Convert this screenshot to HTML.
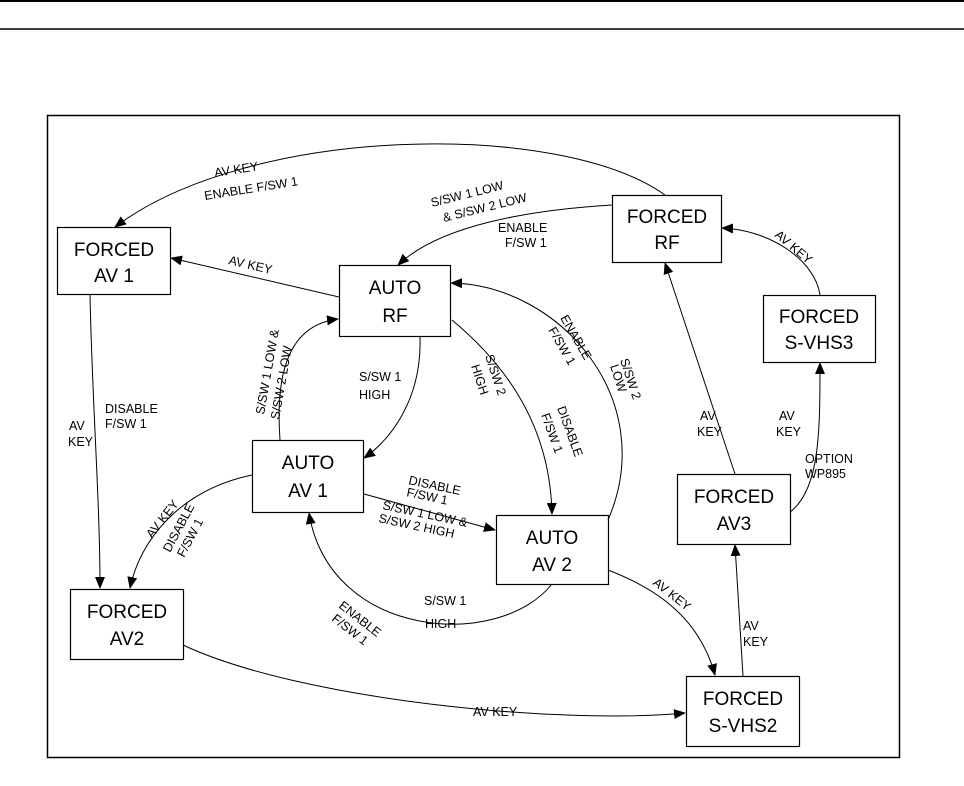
<!DOCTYPE html>
<html><head><meta charset="utf-8"><style>
html,body{margin:0;padding:0;background:#fff;}
svg{display:block;}
text{font-family:"Liberation Sans",Arial,sans-serif;fill:#000;}
.b{font-size:19px;}
.l{font-size:12.5px;}
</style></head><body>
<svg width="964" height="786" viewBox="0 0 964 786">
<defs><marker id="a" markerWidth="12" markerHeight="10" refX="11" refY="5" orient="auto" markerUnits="userSpaceOnUse"><path d="M0,0 L12,5 L0,10 Z" fill="#000"/></marker></defs>
<line x1="0" y1="1" x2="964" y2="1" stroke="#000" stroke-width="2"/>
<line x1="0" y1="29" x2="964" y2="29" stroke="#000" stroke-width="1.5"/>
<rect x="47.5" y="115.5" width="852" height="642" fill="none" stroke="#000" stroke-width="1.5"/>
<g fill="#fff" stroke="#000" stroke-width="1.2">
<rect x="57.5" y="227.5" width="113" height="67"/>
<rect x="339.5" y="265.5" width="111" height="71"/>
<rect x="612.5" y="195.5" width="109" height="67"/>
<rect x="763.5" y="295.5" width="112" height="67"/>
<rect x="252.5" y="440.5" width="111" height="72"/>
<rect x="496.5" y="515.5" width="112" height="69"/>
<rect x="677.5" y="474.5" width="113" height="70"/>
<rect x="70.5" y="589.5" width="113" height="70"/>
<rect x="686.5" y="676.5" width="113" height="70"/>
</g>
<g class="b" text-anchor="middle">
<text x="114" y="256">FORCED</text><text x="114" y="282">AV 1</text>
<text x="395" y="294">AUTO</text><text x="395" y="322">RF</text>
<text x="667" y="223">FORCED</text><text x="667" y="249">RF</text>
<text x="819" y="323">FORCED</text><text x="819" y="349">S-VHS3</text>
<text x="308" y="469">AUTO</text><text x="308" y="497">AV 1</text>
<text x="552" y="544">AUTO</text><text x="552" y="571">AV 2</text>
<text x="734" y="503">FORCED</text><text x="734" y="530">AV3</text>
<text x="127" y="618">FORCED</text><text x="127" y="645">AV2</text>
<text x="743" y="705">FORCED</text><text x="743" y="732">S-VHS2</text>
</g>
<g fill="none" stroke="#000" stroke-width="1" marker-end="url(#a)">
<path d="M665,195 C560,120 250,125 115,227"/>
<path d="M612,205 C530,210 440,225 398,265"/>
<path d="M339,297 L171,258"/>
<path d="M608,520 C660,400 560,285 451,283"/>
<path d="M420,337 C422,400 390,440 364,458"/>
<path d="M280,440 C275,370 290,325 338,319"/>
<path d="M452,320 C500,360 550,420 552,514"/>
<path d="M364,494 L495,530"/>
<path d="M552,584 C500,650 330,640 309,513"/>
<path d="M90,294 C92,400 100,500 100,588"/>
<path d="M252,475 C180,490 140,540 130,588"/>
<path d="M183,645 C300,700 560,725 685,713"/>
<path d="M608,570 C660,590 700,620 715,675"/>
<path d="M743,676 L735,545"/>
<path d="M735,474 L665,263"/>
<path d="M790,512 C820,490 820,430 820,363"/>
<path d="M820,295 C815,260 770,230 722,228"/>
</g>
<g class="l">
<text transform="translate(215,177) rotate(-9)">AV KEY</text>
<text transform="translate(205,200) rotate(-9)">ENABLE F/SW 1</text>
<text transform="translate(432,207) rotate(-14)">S/SW 1 LOW</text>
<text transform="translate(444,222) rotate(-14)">&amp; S/SW 2 LOW</text>
<text x="498" y="232">ENABLE</text><text x="505" y="247">F/SW 1</text>
<text transform="translate(228,264) rotate(13)">AV KEY</text>
<text transform="translate(560,318) rotate(60)">ENABLE</text>
<text transform="translate(548,330) rotate(60)">F/SW 1</text>
<text transform="translate(620,360) rotate(72)">S/SW 2</text>
<text transform="translate(610,366) rotate(72)">LOW</text>
<text x="359" y="381">S/SW 1</text><text x="359" y="399">HIGH</text>
<text transform="translate(264,415) rotate(-80)">S/SW 1 LOW &amp;</text>
<text transform="translate(279,420) rotate(-80)">S/SW 2 LOW</text>
<text transform="translate(485,356) rotate(72)">S/SW 2</text>
<text transform="translate(471,366) rotate(72)">HIGH</text>
<text transform="translate(557,408) rotate(70)">DISABLE</text>
<text transform="translate(541,415) rotate(70)">F/SW 1</text>
<text transform="translate(408,484) rotate(12)">DISABLE</text>
<text transform="translate(406,496) rotate(12)">F/SW 1</text>
<text transform="translate(382,509) rotate(12)">S/SW 1 LOW &amp;</text>
<text transform="translate(378,522) rotate(12)">S/SW 2 HIGH</text>
<text x="424" y="605">S/SW 1</text><text x="425" y="628">HIGH</text>
<text transform="translate(338,607) rotate(38)">ENABLE</text>
<text transform="translate(331,620) rotate(38)">F/SW 1</text>
<text x="69" y="430">AV</text><text x="68" y="446">KEY</text>
<text x="105" y="413">DISABLE</text><text x="105" y="428">F/SW 1</text>
<text transform="translate(152,539) rotate(-52)">AV KEY</text>
<text transform="translate(170,553) rotate(-62)">DISABLE</text>
<text transform="translate(184,558) rotate(-62)">F/SW 1</text>
<text x="473" y="716">AV KEY</text>
<text transform="translate(652,584) rotate(38)">AV KEY</text>
<text x="743" y="630">AV</text><text x="743" y="646">KEY</text>
<text x="700" y="420">AV</text><text x="697" y="436">KEY</text>
<text x="779" y="420">AV</text><text x="776" y="436">KEY</text>
<text x="805" y="463">OPTION</text><text x="805" y="478">WP895</text>
<text transform="translate(774,236) rotate(40)">AV KEY</text>
</g>
</svg>
</body></html>
